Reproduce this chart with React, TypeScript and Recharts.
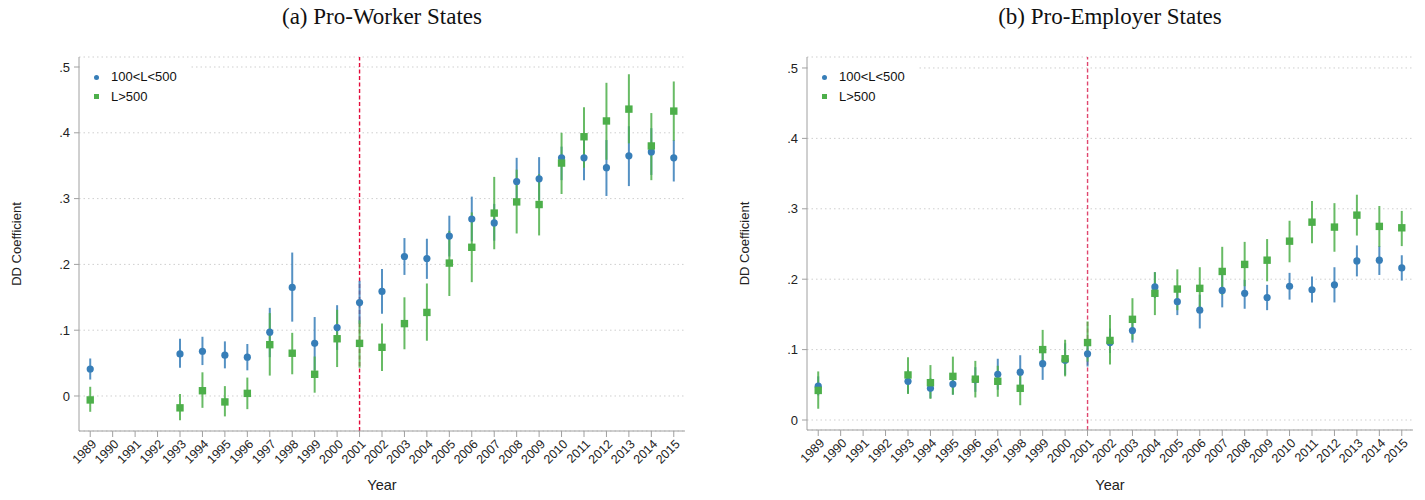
import React from "react";
import {
  ComposedChart,
  Scatter,
  ErrorBar,
  XAxis,
  YAxis,
  CartesianGrid,
  ReferenceLine,
} from "recharts";

const BLUE = "#377eb8";
const GREEN = "#4daf4a";

// years with estimates (1990-1992 missing)
const years = [
  1989, 1993, 1994, 1995, 1996, 1997, 1998, 1999, 2000, 2001, 2002, 2003,
  2004, 2005, 2006, 2007, 2008, 2009, 2010, 2011, 2012, 2013, 2014, 2015,
];

const tickYears = [
  1989, 1990, 1991, 1992, 1993, 1994, 1995, 1996, 1997, 1998, 1999, 2000,
  2001, 2002, 2003, 2004, 2005, 2006, 2007, 2008, 2009, 2010, 2011, 2012,
  2013, 2014, 2015,
];

const yTicks = [0, 0.1, 0.2, 0.3, 0.4, 0.5];

// (a) Pro-Worker States
const workerSmall = [0.041, 0.064, 0.068, 0.062, 0.059, 0.097, 0.165, 0.08, 0.104, 0.142, 0.159, 0.212, 0.209, 0.243, 0.269, 0.263, 0.326, 0.33, 0.362, 0.362, 0.347, 0.365, 0.371, 0.362];
const workerSmallLo = [0.025, 0.043, 0.047, 0.042, 0.039, 0.059, 0.113, 0.039, 0.07, 0.11, 0.125, 0.184, 0.178, 0.212, 0.235, 0.236, 0.293, 0.298, 0.328, 0.328, 0.304, 0.319, 0.336, 0.326];
const workerSmallHi = [0.057, 0.087, 0.09, 0.083, 0.079, 0.134, 0.218, 0.12, 0.138, 0.175, 0.193, 0.24, 0.239, 0.274, 0.303, 0.292, 0.362, 0.363, 0.379, 0.389, 0.389, 0.41, 0.407, 0.389];

const workerLarge = [-0.006, -0.018, 0.008, -0.009, 0.004, 0.078, 0.065, 0.033, 0.087, 0.08, 0.074, 0.11, 0.127, 0.202, 0.226, 0.278, 0.295, 0.291, 0.354, 0.394, 0.418, 0.436, 0.38, 0.433];
const workerLargeLo = [-0.024, -0.037, -0.018, -0.031, -0.02, 0.031, 0.033, 0.005, 0.044, 0.043, 0.038, 0.071, 0.084, 0.152, 0.173, 0.223, 0.247, 0.244, 0.307, 0.347, 0.359, 0.384, 0.328, 0.388];
const workerLargeHi = [0.014, 0.003, 0.036, 0.015, 0.028, 0.126, 0.096, 0.06, 0.131, 0.115, 0.11, 0.15, 0.171, 0.251, 0.279, 0.333, 0.344, 0.337, 0.4, 0.439, 0.476, 0.489, 0.43, 0.478];

// (b) Pro-Employer States
const employerSmall = [0.048, 0.055, 0.045, 0.051, 0.057, 0.065, 0.068, 0.08, 0.085, 0.094, 0.11, 0.127, 0.189, 0.168, 0.156, 0.184, 0.18, 0.174, 0.19, 0.185, 0.192, 0.226, 0.227, 0.216];
const employerSmallLo = [0.035, 0.038, 0.031, 0.036, 0.04, 0.043, 0.045, 0.057, 0.064, 0.076, 0.095, 0.11, 0.173, 0.149, 0.13, 0.16, 0.158, 0.156, 0.171, 0.167, 0.167, 0.204, 0.206, 0.198];
const employerSmallHi = [0.062, 0.071, 0.059, 0.066, 0.075, 0.087, 0.092, 0.1, 0.109, 0.112, 0.13, 0.142, 0.21, 0.187, 0.178, 0.206, 0.199, 0.192, 0.209, 0.204, 0.217, 0.248, 0.247, 0.234];

const employerLarge = [0.042, 0.064, 0.053, 0.062, 0.058, 0.055, 0.045, 0.1, 0.087, 0.11, 0.113, 0.143, 0.18, 0.186, 0.187, 0.211, 0.221, 0.227, 0.254, 0.281, 0.274, 0.291, 0.275, 0.273];
const employerLargeLo = [0.016, 0.037, 0.03, 0.036, 0.032, 0.033, 0.021, 0.076, 0.062, 0.083, 0.079, 0.114, 0.149, 0.156, 0.156, 0.178, 0.19, 0.197, 0.224, 0.251, 0.239, 0.262, 0.246, 0.247];
const employerLargeHi = [0.069, 0.089, 0.078, 0.09, 0.084, 0.077, 0.066, 0.128, 0.114, 0.14, 0.149, 0.173, 0.21, 0.214, 0.217, 0.246, 0.253, 0.257, 0.283, 0.311, 0.308, 0.32, 0.304, 0.297];

const rows = (v: number[], lo: number[], hi: number[]) =>
  years.map((year, i) => ({ year, v: v[i], err: [v[i] - lo[i], hi[i] - v[i]] }));

const fmtY = (v: number) => (v === 0 ? "0" : String(v).replace(/^0/, ""));

const Dot = (p: any) => <circle cx={p.cx} cy={p.cy} r={3.6} fill={BLUE} />;
const Square = (p: any) => (
  <rect x={p.cx - 3.7} y={p.cy - 3.7} width={7.4} height={7.4} fill={GREEN} />
);

const YearTick = (p: any) => {
  const { x, y, payload } = p;
  return (
    <text
      x={x + 4}
      y={y + 3}
      transform={`rotate(-45 ${x + 4} ${y + 3})`}
      textAnchor="end"
      dominantBaseline="central"
      fontSize={12.5}
      fill="#222"
    >
      {payload.value}
    </text>
  );
};

const yLabel = (p: any) => {
  const vb = p.viewBox || {};
  const cx = vb.x + 16;
  const cy = vb.y + vb.height / 2;
  return (
    <text
      x={cx}
      y={cy}
      transform={`rotate(-90 ${cx} ${cy})`}
      textAnchor="middle"
      dominantBaseline="central"
      fontSize={13}
      fill="#222"
    >
      DD Coefficient
    </text>
  );
};

type PanelProps = {
  title: string;
  left: number;
  width: number;
  marginRight: number;
  xHeight: number;
  domain: [number, number];
  small: ReturnType<typeof rows>;
  large: ReturnType<typeof rows>;
  dashColor: string;
};

function Panel({ title, left, width, marginRight, xHeight, domain, small, large, dashColor }: PanelProps) {
  const plotW = width - 79 - marginRight;
  return (
    <div style={{ position: "absolute", left, top: 0, width, height: 500 }}>
      <div
        style={{
          position: "absolute",
          left: 79,
          width: plotW,
          top: 5,
          textAlign: "center",
          fontFamily: "'Liberation Serif', 'Times New Roman', serif",
          fontSize: 23,
          lineHeight: "23px",
          color: "#111",
        }}
      >
        {title}
      </div>
      <ComposedChart
        width={width}
        height={500}
        margin={{ top: 57, right: marginRight, bottom: 0, left: 0 }}
        style={{ fontFamily: "'Liberation Sans', Arial, sans-serif" }}
      >
        <CartesianGrid vertical={false} stroke="#cfcfcf" strokeDasharray="1.5 3" />
        <XAxis
          dataKey="year"
          type="number"
          domain={[1988.5, 2015.5]}
          ticks={tickYears}
          interval={0}
          allowDataOverflow
          height={xHeight}
          tickSize={6}
          tickMargin={2}
          stroke="#a0a0a0"
          tick={<YearTick />}
          label={{ value: "Year", position: "insideBottom", offset: 10, fill: "#222", fontSize: 14.5 }}
        />
        <YAxis
          type="number"
          domain={domain}
          ticks={yTicks}
          allowDataOverflow
          width={79}
          tickSize={5}
          tickMargin={4}
          tickFormatter={fmtY}
          stroke="#a0a0a0"
          tick={{ fill: "#222", fontSize: 13 }}
          label={yLabel}
        />
        <ReferenceLine x={2001} stroke={dashColor} strokeDasharray="4 2.5" strokeWidth={1.4} />
        <Scatter data={small} dataKey="v" shape={<Dot />} isAnimationActive={false}>
          <ErrorBar dataKey="err" direction="y" width={0} stroke={BLUE} strokeWidth={2} strokeOpacity={0.85} isAnimationActive={false} />
        </Scatter>
        <Scatter data={large} dataKey="v" shape={<Square />} isAnimationActive={false}>
          <ErrorBar dataKey="err" direction="y" width={0} stroke={GREEN} strokeWidth={2} strokeOpacity={0.85} isAnimationActive={false} />
        </Scatter>
      </ComposedChart>
      <div
        style={{
          position: "absolute",
          left: 80,
          top: 58,
          width: 111,
          height: 50,
          background: "#fff",
          fontFamily: "'Liberation Sans', Arial, sans-serif",
          fontSize: 13,
          color: "#111",
        }}
      >
        <div style={{ position: "absolute", left: 14, top: 17, width: 5, height: 5, borderRadius: 3, background: BLUE }} />
        <div style={{ position: "absolute", left: 31, top: 11, lineHeight: "16px" }}>100&lt;L&lt;500</div>
        <div style={{ position: "absolute", left: 14, top: 36, width: 5, height: 5, background: GREEN }} />
        <div style={{ position: "absolute", left: 31, top: 31, lineHeight: "16px" }}>L&gt;500</div>
      </div>
    </div>
  );
}

export default function App() {
  return (
    <div style={{ position: "absolute", left: 0, top: 0, width: 1425, height: 500, background: "#fff" }}>
      <Panel
        title="(a) Pro-Worker States"
        left={0}
        width={712}
        marginRight={27}
        xHeight={69}
        domain={[-0.0532, 0.5152]}
        small={rows(workerSmall, workerSmallLo, workerSmallHi)}
        large={rows(workerLarge, workerLargeLo, workerLargeHi)}
        dashColor="#e30b3a"
      />
      <Panel
        title="(b) Pro-Employer States"
        left={728}
        width={697}
        marginRight={12}
        xHeight={70}
        domain={[-0.0142, 0.5156]}
        small={rows(employerSmall, employerSmallLo, employerSmallHi)}
        large={rows(employerLarge, employerLargeLo, employerLargeHi)}
        dashColor="#e0466e"
      />
    </div>
  );
}
